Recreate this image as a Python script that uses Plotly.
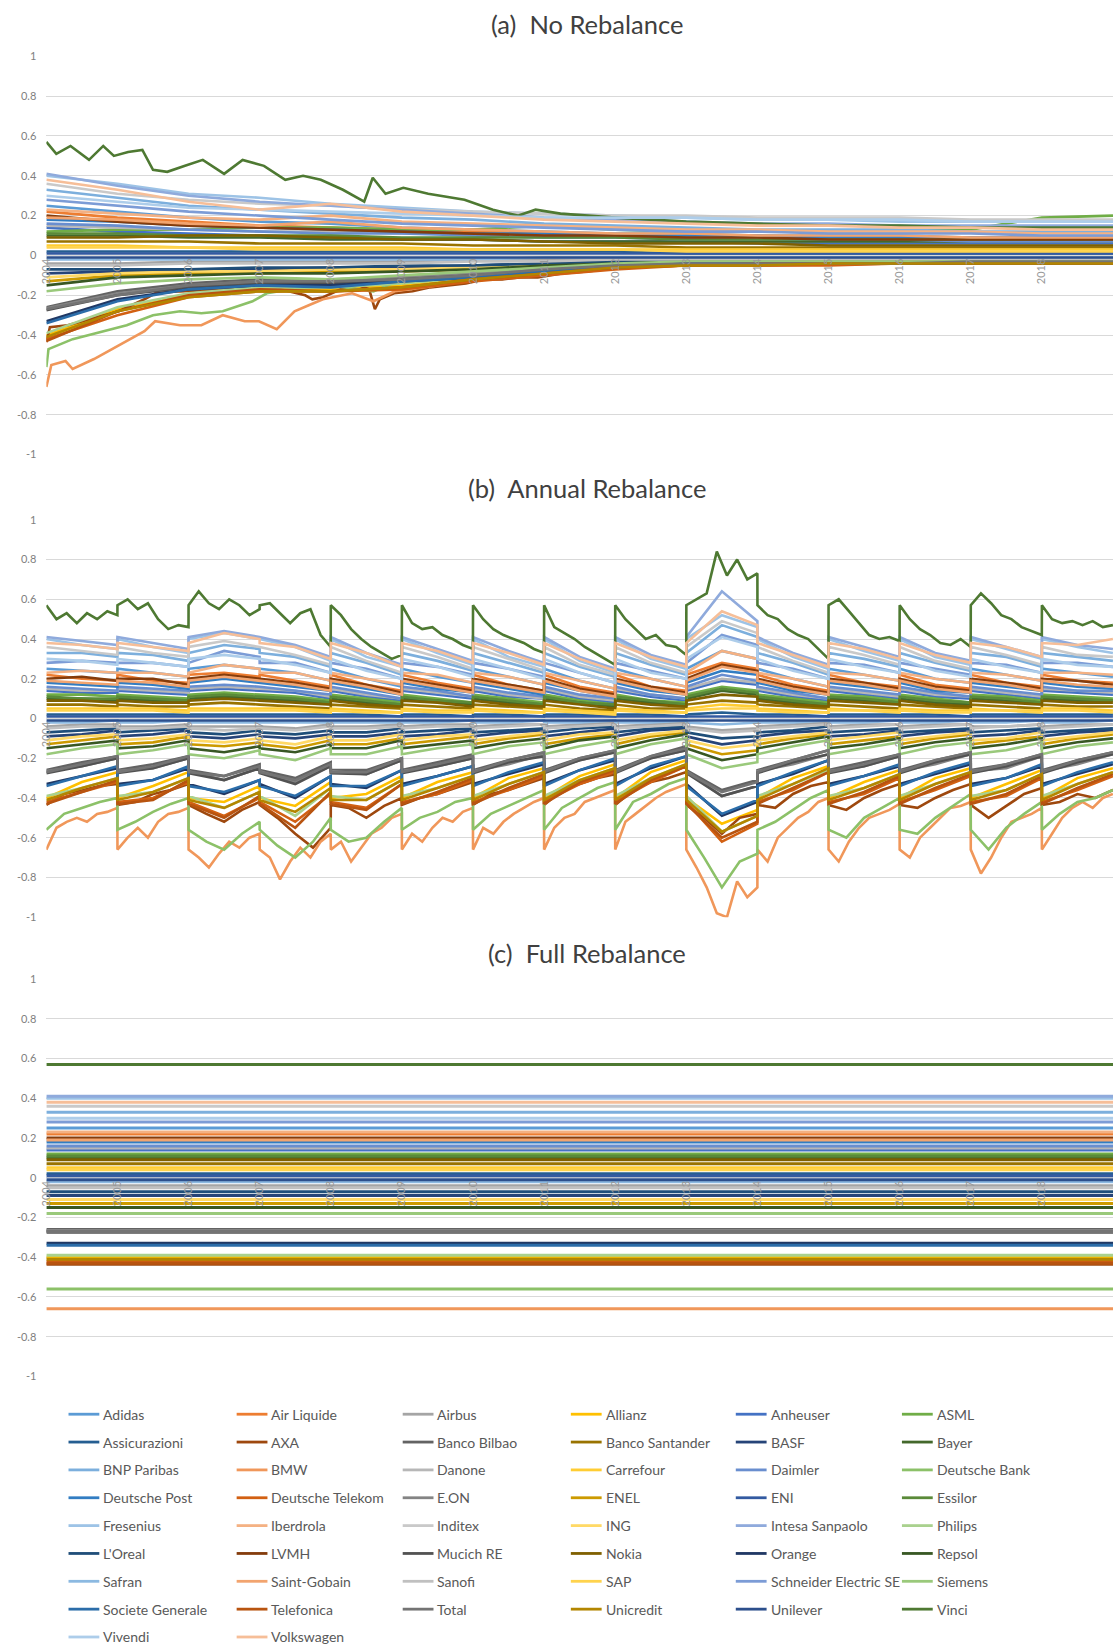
import plotly.graph_objects as go

# ---------------------------------------------------------------------------
# Stocks, in legend order, and their series colours
# ---------------------------------------------------------------------------
NAMES = ["Adidas", "Air Liquide", "Airbus", "Allianz", "Anheuser", "ASML",
         "Assicurazioni", "AXA", "Banco Bilbao", "Banco Santander", "BASF", "Bayer",
         "BNP Paribas", "BMW", "Danone", "Carrefour", "Daimler", "Deutsche Bank",
         "Deutsche Post", "Deutsche Telekom", "E.ON", "ENEL", "ENI", "Essilor",
         "Fresenius", "Iberdrola", "Inditex", "ING", "Intesa Sanpaolo", "Philips",
         "L'Oreal", "LVMH", "Mucich RE", "Nokia", "Orange", "Repsol",
         "Safran", "Saint-Gobain", "Sanofi", "SAP", "Schneider Electric SE", "Siemens",
         "Societe Generale", "Telefonica", "Total", "Unicredit", "Unilever", "Vinci",
         "Vivendi", "Volkswagen"]

COLORS = ["#5B9BD5", "#ED7D31", "#A5A5A5", "#FFC000", "#4472C4", "#70AD47",
          "#255E91", "#9E480E", "#636363", "#997300", "#264478", "#43682B",
          "#7CAFDD", "#F0975A", "#B7B7B7", "#FFCD33", "#698ECF", "#8CC168",
          "#327DC2", "#D26012", "#848484", "#CC9A00", "#335AA1", "#5A8A39",
          "#9DC3E6", "#F4B183", "#C9C9C9", "#FFD966", "#8FAADC", "#A9D18E",
          "#1F4E79", "#843C0C", "#525252", "#7F6000", "#203864", "#385723",
          "#8CB9E1", "#F2A46F", "#C0C0C0", "#FFD34D", "#7C9CD6", "#9AC97B",
          "#2B6DA9", "#B85410", "#747474", "#B38600", "#2C4F8C", "#4E7932",
          "#ADCDEA", "#F6BE98"]

# Target weights (held constant under full rebalancing)
TARGET_WEIGHT = [0.25, 0.22, -0.04, -0.40, 0.14, 0.12,
                 0.02, -0.435, -0.26, 0.07, -0.09, 0.10,
                 0.33, -0.66, 0.15, 0.05, 0.16, -0.56,
                 0.18, -0.42, -0.265, -0.13, 0.01, 0.11,
                 0.40, 0.23, 0.36, -0.11, 0.41, -0.39,
                 -0.07, 0.20, -0.275, 0.09, -0.33, -0.15,
                 -0.02, 0.19, -0.05, 0.04, 0.28, -0.18,
                 -0.34, -0.43, -0.27, -0.41, -0.01, 0.57,
                 0.30, 0.38]

YEARS = [2004, 2005, 2006, 2007, 2008, 2009, 2010, 2011,
         2012, 2013, 2014, 2015, 2016, 2017, 2018, 2019]
YEAR_LABELS = ["2004", "2005", "2006", "2007", "2008", "2009", "2010", "2011",
               "2012", "2013", "2014", "2015", "2016", "2017", "2018"]

# ---------------------------------------------------------------------------
# (a) No rebalance: weights at the start of each year
# ---------------------------------------------------------------------------
NO_REBALANCE = {
    "Adidas": [0.25, 0.22, 0.19, 0.17, 0.16, 0.14, 0.13, 0.12, 0.11, 0.11, 0.10, 0.10, 0.10, 0.09, 0.09, 0.09],
    "Air Liquide": [0.22, 0.19, 0.17, 0.15, 0.14, 0.13, 0.12, 0.11, 0.10, 0.10, 0.09, 0.09, 0.09, 0.08, 0.08, 0.08],
    "Airbus": [-0.04, -0.04, -0.03, -0.03, -0.03, -0.03, -0.02, -0.02, -0.02, -0.02, -0.02, -0.02, -0.02, -0.02, -0.02, -0.02],
    "Allianz": [-0.40, -0.27, -0.20, -0.17, -0.17, -0.15, -0.12, -0.09, -0.06, -0.05, -0.04, -0.04, -0.04, -0.04, -0.04, -0.04],
    "Anheuser": [0.14, 0.12, 0.11, 0.10, 0.09, 0.08, 0.08, 0.07, 0.07, 0.07, 0.06, 0.06, 0.06, 0.06, 0.06, 0.06],
    "ASML": [0.12, 0.13, 0.13, 0.14, 0.14, 0.13, 0.13, 0.15, 0.13, 0.12, 0.12, 0.12, 0.13, 0.13, 0.19, 0.20],
    "Assicurazioni": [0.02, 0.02, 0.02, 0.02, 0.02, 0.02, 0.02, 0.02, 0.02, 0.01, 0.01, 0.01, 0.01, 0.01, 0.01, 0.01],
    "Banco Bilbao": [-0.26, -0.18, -0.14, -0.12, -0.13, -0.11, -0.09, -0.07, -0.05, -0.04, -0.03, -0.03, -0.03, -0.03, -0.03, -0.03],
    "Banco Santander": [0.07, 0.07, 0.07, 0.06, 0.06, 0.06, 0.05, 0.05, 0.05, 0.04, 0.04, 0.04, 0.04, 0.04, 0.04, 0.04],
    "BASF": [-0.09, -0.08, -0.07, -0.07, -0.06, -0.06, -0.05, -0.04, -0.03, -0.03, -0.02, -0.02, -0.02, -0.02, -0.02, -0.02],
    "Bayer": [0.10, 0.10, 0.09, 0.09, 0.08, 0.08, 0.08, 0.07, 0.07, 0.07, 0.07, 0.07, 0.07, 0.07, 0.07, 0.07],
    "BNP Paribas": [0.33, 0.29, 0.25, 0.23, 0.21, 0.19, 0.18, 0.16, 0.15, 0.14, 0.13, 0.13, 0.13, 0.12, 0.12, 0.12],
    "Danone": [0.15, 0.14, 0.13, 0.12, 0.12, 0.11, 0.11, 0.10, 0.10, 0.10, 0.10, 0.09, 0.09, 0.09, 0.09, 0.09],
    "Carrefour": [0.05, 0.05, 0.04, 0.04, 0.04, 0.04, 0.03, 0.03, 0.03, 0.03, 0.03, 0.03, 0.03, 0.03, 0.03, 0.03],
    "Daimler": [0.16, 0.15, 0.13, 0.12, 0.11, 0.11, 0.10, 0.09, 0.09, 0.08, 0.08, 0.08, 0.08, 0.07, 0.07, 0.07],
    "Deutsche Post": [0.18, 0.17, 0.15, 0.14, 0.13, 0.12, 0.11, 0.11, 0.10, 0.10, 0.10, 0.09, 0.09, 0.09, 0.09, 0.09],
    "Deutsche Telekom": [-0.42, -0.30, -0.21, -0.18, -0.18, -0.17, -0.13, -0.10, -0.07, -0.05, -0.05, -0.05, -0.04, -0.04, -0.04, -0.04],
    "E.ON": [-0.265, -0.19, -0.15, -0.13, -0.12, -0.11, -0.09, -0.07, -0.05, -0.04, -0.04, -0.03, -0.03, -0.03, -0.03, -0.03],
    "ENEL": [-0.13, -0.10, -0.09, -0.09, -0.08, -0.08, -0.07, -0.05, -0.04, -0.03, -0.03, -0.03, -0.03, -0.03, -0.03, -0.03],
    "ENI": [0.01, 0.01, 0.01, 0.01, 0.01, 0.01, 0.01, 0.01, 0.01, 0.01, 0.01, 0.01, 0.01, 0.01, 0.01, 0.01],
    "Essilor": [0.11, 0.11, 0.10, 0.10, 0.10, 0.09, 0.09, 0.09, 0.09, 0.08, 0.08, 0.08, 0.08, 0.08, 0.08, 0.08],
    "Fresenius": [0.40, 0.36, 0.31, 0.29, 0.26, 0.24, 0.22, 0.21, 0.20, 0.19, 0.18, 0.18, 0.17, 0.17, 0.17, 0.17],
    "Iberdrola": [0.23, 0.21, 0.19, 0.18, 0.20, 0.17, 0.16, 0.15, 0.14, 0.13, 0.13, 0.12, 0.12, 0.12, 0.11, 0.11],
    "Inditex": [0.36, 0.31, 0.28, 0.26, 0.25, 0.23, 0.22, 0.21, 0.20, 0.20, 0.19, 0.19, 0.19, 0.18, 0.18, 0.18],
    "ING": [-0.11, -0.09, -0.08, -0.08, -0.07, -0.07, -0.06, -0.05, -0.04, -0.03, -0.03, -0.03, -0.03, -0.02, -0.02, -0.02],
    "Intesa Sanpaolo": [0.41, 0.35, 0.30, 0.27, 0.25, 0.23, 0.21, 0.19, 0.18, 0.17, 0.16, 0.16, 0.15, 0.15, 0.15, 0.15],
    "Philips": [-0.39, -0.26, -0.19, -0.16, -0.16, -0.14, -0.11, -0.08, -0.05, -0.04, -0.04, -0.04, -0.04, -0.04, -0.04, -0.04],
    "L'Oreal": [-0.07, -0.07, -0.07, -0.06, -0.06, -0.05, -0.05, -0.04, -0.03, -0.03, -0.03, -0.02, -0.02, -0.02, -0.02, -0.02],
    "LVMH": [0.20, 0.17, 0.15, 0.14, 0.13, 0.12, 0.11, 0.10, 0.10, 0.09, 0.09, 0.08, 0.08, 0.08, 0.08, 0.08],
    "Mucich RE": [-0.275, -0.20, -0.16, -0.14, -0.14, -0.12, -0.10, -0.08, -0.05, -0.04, -0.04, -0.04, -0.04, -0.04, -0.03, -0.03],
    "Nokia": [0.09, 0.09, 0.10, 0.10, 0.09, 0.08, 0.08, 0.07, 0.06, 0.06, 0.06, 0.05, 0.05, 0.05, 0.05, 0.05],
    "Orange": [-0.33, -0.22, -0.17, -0.15, -0.15, -0.13, -0.11, -0.08, -0.05, -0.04, -0.04, -0.04, -0.04, -0.04, -0.04, -0.04],
    "Repsol": [-0.15, -0.11, -0.10, -0.09, -0.09, -0.08, -0.07, -0.05, -0.04, -0.03, -0.03, -0.03, -0.03, -0.03, -0.03, -0.03],
    "Safran": [-0.02, -0.02, -0.02, -0.02, -0.02, -0.02, -0.02, -0.01, -0.01, -0.01, -0.01, -0.01, -0.01, -0.01, -0.01, -0.01],
    "Saint-Gobain": [0.19, 0.18, 0.16, 0.15, 0.17, 0.14, 0.13, 0.12, 0.11, 0.11, 0.10, 0.10, 0.10, 0.09, 0.09, 0.09],
    "Sanofi": [-0.05, -0.05, -0.04, -0.04, -0.04, -0.04, -0.03, -0.03, -0.02, -0.02, -0.02, -0.02, -0.02, -0.02, -0.02, -0.02],
    "SAP": [0.04, 0.04, 0.04, 0.03, 0.03, 0.03, 0.03, 0.03, 0.03, 0.02, 0.02, 0.02, 0.02, 0.02, 0.02, 0.02],
    "Schneider Electric SE": [0.28, 0.25, 0.22, 0.20, 0.18, 0.16, 0.15, 0.14, 0.13, 0.12, 0.12, 0.11, 0.11, 0.11, 0.10, 0.10],
    "Siemens": [-0.18, -0.14, -0.12, -0.11, -0.12, -0.10, -0.08, -0.06, -0.04, -0.03, -0.03, -0.03, -0.03, -0.03, -0.03, -0.03],
    "Societe Generale": [-0.34, -0.23, -0.17, -0.15, -0.16, -0.13, -0.11, -0.08, -0.06, -0.04, -0.04, -0.04, -0.04, -0.04, -0.04, -0.04],
    "Telefonica": [-0.43, -0.28, -0.20, -0.17, -0.18, -0.16, -0.12, -0.09, -0.06, -0.05, -0.04, -0.04, -0.04, -0.04, -0.04, -0.04],
    "Total": [-0.27, -0.20, -0.15, -0.13, -0.13, -0.12, -0.10, -0.07, -0.05, -0.04, -0.04, -0.04, -0.04, -0.03, -0.03, -0.03],
    "Unicredit": [-0.41, -0.28, -0.21, -0.18, -0.18, -0.16, -0.12, -0.09, -0.06, -0.05, -0.05, -0.04, -0.04, -0.04, -0.04, -0.04],
    "Unilever": [-0.01, -0.01, -0.01, -0.01, -0.01, -0.01, -0.01, -0.01, -0.01, -0.01, -0.01, -0.01, -0.01, -0.01, -0.01, -0.01],
    "Vivendi": [0.30, 0.27, 0.24, 0.23, 0.22, 0.21, 0.20, 0.19, 0.19, 0.19, 0.18, 0.18, 0.18, 0.17, 0.17, 0.17],
    "Volkswagen": [0.38, 0.33, 0.27, 0.23, 0.26, 0.22, 0.20, 0.18, 0.17, 0.16, 0.15, 0.15, 0.14, 0.14, 0.13, 0.13],
}

# Finer paths for the four widest-swinging stocks in (a)
VINCI_A_T = [2004.0, 2004.14, 2004.34, 2004.6, 2004.8, 2004.95, 2005.15, 2005.35, 2005.5, 2005.7,
             2005.95, 2006.2, 2006.5, 2006.76, 2007.06, 2007.36, 2007.61, 2007.86, 2008.17, 2008.47,
             2008.59, 2008.77, 2009.02, 2009.37, 2009.88, 2010.28, 2010.63, 2010.88, 2011.23, 2011.6,
             2012.0, 2012.5, 2013.0, 2014.0, 2015.0, 2016.0, 2017.0, 2018.0, 2019.0]
VINCI_A_V = [0.57, 0.51, 0.55, 0.48, 0.55, 0.50, 0.52, 0.53, 0.43, 0.42,
             0.45, 0.48, 0.41, 0.48, 0.45, 0.38, 0.40, 0.38, 0.33, 0.27,
             0.39, 0.31, 0.34, 0.31, 0.28, 0.23, 0.20, 0.23, 0.21, 0.20,
             0.19, 0.18, 0.17, 0.16, 0.15, 0.15, 0.14, 0.14, 0.14]

AXA_A_T = [2004.0, 2004.05, 2004.3, 2004.62, 2005.02, 2005.38, 2005.53, 2005.88, 2006.38, 2006.89,
           2007.29, 2007.64, 2007.74, 2007.89, 2008.14, 2008.39, 2008.54, 2008.62, 2008.69, 2008.89,
           2009.15, 2009.4, 2009.9, 2010.15, 2010.41, 2010.66, 2010.91, 2011.25, 2011.6, 2012.1,
           2013.0, 2014.0, 2016.0, 2019.0]
AXA_A_V = [-0.435, -0.36, -0.35, -0.32, -0.28, -0.22, -0.19, -0.18, -0.17, -0.16,
           -0.17, -0.20, -0.22, -0.21, -0.17, -0.15, -0.17, -0.27, -0.22, -0.19,
           -0.18, -0.16, -0.14, -0.12, -0.12, -0.11, -0.11, -0.09, -0.08, -0.06,
           -0.05, -0.05, -0.04, -0.04]

DEUTSCHE_BANK_A_T = [2004.0, 2004.03, 2004.37, 2004.8, 2005.13, 2005.5, 2005.88, 2006.18, 2006.48, 2006.9,
                     2007.1, 2007.45, 2008.0, 2008.6, 2009.0, 2010.0, 2011.0, 2012.0, 2013.0, 2019.0]
DEUTSCHE_BANK_A_V = [-0.56, -0.47, -0.42, -0.38, -0.35, -0.30, -0.28, -0.29, -0.28, -0.23,
                     -0.19, -0.17, -0.15, -0.18, -0.12, -0.08, -0.05, -0.04, -0.03, -0.03]

BMW_A_T = [2004.0, 2004.07, 2004.27, 2004.37, 2004.67, 2004.87, 2005.13, 2005.38, 2005.53, 2005.88,
           2006.18, 2006.48, 2006.79, 2006.99, 2007.24, 2007.49, 2007.69, 2007.89, 2008.3, 2008.6,
           2008.9, 2009.5, 2010.0, 2010.5, 2011.0, 2012.0, 2013.0, 2019.0]
BMW_A_V = [-0.66, -0.55, -0.53, -0.57, -0.52, -0.48, -0.43, -0.38, -0.33, -0.35,
           -0.35, -0.30, -0.33, -0.33, -0.37, -0.28, -0.25, -0.22, -0.19, -0.23,
           -0.18, -0.15, -0.11, -0.09, -0.07, -0.04, -0.03, -0.03]

# ---------------------------------------------------------------------------
# (b) Annual rebalance: mid-year and year-end weights, 2004..2018
# ---------------------------------------------------------------------------
ANNUAL_MID = {
    "Adidas": [0.24, 0.23, 0.27, 0.23, 0.20, 0.21, 0.21, 0.19, 0.20, 0.34, 0.20, 0.22, 0.20, 0.22, 0.23],
    "Air Liquide": [0.20, 0.19, 0.23, 0.19, 0.17, 0.18, 0.17, 0.16, 0.16, 0.28, 0.17, 0.18, 0.17, 0.18, 0.19],
    "Airbus": [-0.03, -0.04, -0.04, -0.05, -0.04, -0.03, -0.03, -0.03, -0.03, -0.06, -0.03, -0.03, -0.03, -0.04, -0.03],
    "Allianz": [-0.32, -0.34, -0.42, -0.44, -0.38, -0.32, -0.30, -0.29, -0.27, -0.53, -0.30, -0.32, -0.30, -0.33, -0.30],
    "Anheuser": [0.13, 0.13, 0.15, 0.13, 0.11, 0.12, 0.11, 0.10, 0.11, 0.19, 0.11, 0.12, 0.11, 0.12, 0.13],
    "ASML": [0.12, 0.11, 0.13, 0.11, 0.10, 0.10, 0.10, 0.09, 0.09, 0.16, 0.10, 0.11, 0.10, 0.11, 0.11],
    "Assicurazioni": [0.02, 0.02, 0.02, 0.02, 0.02, 0.02, 0.02, 0.02, 0.02, 0.03, 0.02, 0.02, 0.02, 0.02, 0.02],
    "Banco Bilbao": [-0.22, -0.23, -0.29, -0.30, -0.26, -0.22, -0.21, -0.20, -0.19, -0.36, -0.21, -0.22, -0.21, -0.23, -0.21],
    "Banco Santander": [0.07, 0.06, 0.08, 0.06, 0.06, 0.06, 0.06, 0.05, 0.05, 0.09, 0.06, 0.06, 0.06, 0.06, 0.06],
    "BASF": [-0.08, -0.08, -0.10, -0.10, -0.09, -0.08, -0.07, -0.07, -0.06, -0.13, -0.07, -0.08, -0.07, -0.08, -0.07],
    "Bayer": [0.10, 0.09, 0.11, 0.09, 0.08, 0.09, 0.08, 0.08, 0.08, 0.14, 0.08, 0.09, 0.08, 0.09, 0.09],
    "BNP Paribas": [0.33, 0.32, 0.37, 0.31, 0.28, 0.29, 0.28, 0.26, 0.27, 0.47, 0.28, 0.30, 0.28, 0.31, 0.31],
    "Danone": [0.14, 0.14, 0.16, 0.14, 0.12, 0.13, 0.12, 0.11, 0.12, 0.20, 0.12, 0.13, 0.12, 0.13, 0.14],
    "Carrefour": [0.05, 0.05, 0.05, 0.05, 0.04, 0.04, 0.04, 0.04, 0.04, 0.07, 0.04, 0.04, 0.04, 0.04, 0.05],
    "Daimler": [0.15, 0.15, 0.17, 0.14, 0.13, 0.14, 0.13, 0.12, 0.12, 0.22, 0.13, 0.14, 0.13, 0.14, 0.14],
    "Deutsche Post": [0.17, 0.17, 0.20, 0.16, 0.15, 0.15, 0.15, 0.14, 0.14, 0.24, 0.14, 0.16, 0.14, 0.16, 0.16],
    "Deutsche Telekom": [-0.37, -0.40, -0.49, -0.52, -0.45, -0.38, -0.36, -0.33, -0.32, -0.62, -0.36, -0.38, -0.36, -0.39, -0.36],
    "E.ON": [-0.24, -0.25, -0.31, -0.32, -0.28, -0.24, -0.23, -0.21, -0.20, -0.39, -0.23, -0.24, -0.23, -0.25, -0.23],
    "ENEL": [-0.11, -0.12, -0.14, -0.15, -0.13, -0.11, -0.10, -0.10, -0.09, -0.18, -0.10, -0.11, -0.10, -0.11, -0.10],
    "ENI": [0.01, 0.01, 0.01, 0.01, 0.01, 0.01, 0.01, 0.01, 0.01, 0.01, 0.01, 0.01, 0.01, 0.01, 0.01],
    "Essilor": [0.10, 0.10, 0.12, 0.10, 0.09, 0.09, 0.09, 0.08, 0.09, 0.15, 0.09, 0.10, 0.09, 0.10, 0.10],
    "Fresenius": [0.37, 0.36, 0.43, 0.36, 0.31, 0.33, 0.31, 0.29, 0.30, 0.52, 0.31, 0.34, 0.31, 0.35, 0.36],
    "Iberdrola": [0.24, 0.23, 0.27, 0.23, 0.20, 0.22, 0.21, 0.19, 0.20, 0.34, 0.20, 0.22, 0.20, 0.22, 0.23],
    "Inditex": [0.34, 0.33, 0.39, 0.32, 0.29, 0.31, 0.30, 0.27, 0.28, 0.49, 0.29, 0.32, 0.29, 0.32, 0.32],
    "ING": [-0.09, -0.10, -0.12, -0.13, -0.11, -0.09, -0.09, -0.08, -0.08, -0.15, -0.09, -0.09, -0.09, -0.10, -0.09],
    "Intesa Sanpaolo": [0.39, 0.38, 0.44, 0.37, 0.33, 0.35, 0.34, 0.31, 0.32, 0.64, 0.33, 0.36, 0.33, 0.36, 0.37],
    "Philips": [-0.35, -0.37, -0.45, -0.49, -0.41, -0.35, -0.33, -0.31, -0.30, -0.57, -0.33, -0.35, -0.33, -0.36, -0.33],
    "L'Oreal": [-0.06, -0.06, -0.08, -0.08, -0.07, -0.06, -0.06, -0.05, -0.05, -0.10, -0.06, -0.06, -0.06, -0.06, -0.06],
    "LVMH": [0.21, 0.20, 0.22, 0.18, 0.17, 0.17, 0.17, 0.15, 0.16, 0.27, 0.16, 0.18, 0.16, 0.18, 0.19],
    "Mucich RE": [-0.24, -0.25, -0.31, -0.33, -0.28, -0.24, -0.22, -0.21, -0.20, -0.39, -0.22, -0.24, -0.22, -0.24, -0.22],
    "Nokia": [0.09, 0.08, 0.10, 0.08, 0.07, 0.08, 0.07, 0.07, 0.07, 0.12, 0.07, 0.08, 0.07, 0.08, 0.08],
    "Orange": [-0.29, -0.31, -0.38, -0.40, -0.35, -0.29, -0.28, -0.26, -0.25, -0.49, -0.28, -0.29, -0.28, -0.30, -0.28],
    "Repsol": [-0.13, -0.14, -0.17, -0.17, -0.15, -0.13, -0.12, -0.11, -0.11, -0.21, -0.12, -0.13, -0.12, -0.13, -0.12],
    "Safran": [-0.02, -0.02, -0.02, -0.02, -0.02, -0.02, -0.02, -0.02, -0.02, -0.03, -0.02, -0.02, -0.02, -0.02, -0.02],
    "Saint-Gobain": [0.18, 0.18, 0.21, 0.17, 0.16, 0.16, 0.16, 0.14, 0.15, 0.26, 0.15, 0.17, 0.15, 0.17, 0.17],
    "Sanofi": [-0.04, -0.05, -0.06, -0.06, -0.05, -0.04, -0.04, -0.04, -0.04, -0.07, -0.04, -0.04, -0.04, -0.04, -0.04],
    "SAP": [0.04, 0.04, 0.04, 0.04, 0.03, 0.03, 0.03, 0.03, 0.03, 0.05, 0.03, 0.04, 0.03, 0.04, 0.04],
    "Schneider Electric SE": [0.29, 0.28, 0.34, 0.28, 0.25, 0.26, 0.25, 0.23, 0.24, 0.42, 0.25, 0.27, 0.25, 0.27, 0.28],
    "Siemens": [-0.15, -0.16, -0.20, -0.21, -0.18, -0.15, -0.14, -0.14, -0.13, -0.25, -0.14, -0.15, -0.14, -0.16, -0.14],
    "Societe Generale": [-0.29, -0.31, -0.37, -0.39, -0.34, -0.29, -0.27, -0.26, -0.24, -0.48, -0.27, -0.29, -0.27, -0.30, -0.27],
    "Telefonica": [-0.37, -0.41, -0.50, -0.55, -0.46, -0.37, -0.35, -0.32, -0.31, -0.60, -0.35, -0.37, -0.35, -0.38, -0.35],
    "Total": [-0.23, -0.24, -0.29, -0.31, -0.27, -0.23, -0.21, -0.20, -0.19, -0.37, -0.21, -0.23, -0.21, -0.23, -0.21],
    "Unicredit": [-0.35, -0.37, -0.45, -0.47, -0.41, -0.35, -0.33, -0.31, -0.30, -0.57, -0.33, -0.35, -0.33, -0.36, -0.33],
    "Unilever": [-0.01, -0.01, -0.01, -0.01, -0.01, -0.01, -0.01, -0.01, -0.01, -0.01, -0.01, -0.01, -0.01, -0.01, -0.01],
    "Vivendi": [0.29, 0.28, 0.32, 0.27, 0.24, 0.26, 0.25, 0.23, 0.23, 0.41, 0.24, 0.26, 0.24, 0.26, 0.27],
    "Volkswagen": [0.37, 0.36, 0.43, 0.36, 0.33, 0.34, 0.33, 0.30, 0.31, 0.54, 0.32, 0.35, 0.32, 0.36, 0.37],
}

ANNUAL_END = {
    "Adidas": [0.23, 0.21, 0.25, 0.19, 0.16, 0.18, 0.17, 0.15, 0.16, 0.30, 0.16, 0.19, 0.18, 0.19, 0.21],
    "Air Liquide": [0.19, 0.18, 0.21, 0.16, 0.14, 0.15, 0.14, 0.13, 0.14, 0.25, 0.14, 0.16, 0.15, 0.16, 0.18],
    "Airbus": [-0.03, -0.03, -0.04, -0.03, -0.03, -0.03, -0.03, -0.02, -0.02, -0.05, -0.02, -0.03, -0.03, -0.03, -0.03],
    "Allianz": [-0.27, -0.27, -0.34, -0.32, -0.29, -0.27, -0.25, -0.23, -0.21, -0.46, -0.24, -0.26, -0.25, -0.26, -0.25],
    "Anheuser": [0.13, 0.12, 0.14, 0.10, 0.09, 0.10, 0.10, 0.08, 0.09, 0.17, 0.09, 0.10, 0.10, 0.10, 0.12],
    "ASML": [0.11, 0.10, 0.12, 0.09, 0.08, 0.08, 0.08, 0.07, 0.08, 0.14, 0.08, 0.09, 0.08, 0.09, 0.10],
    "Assicurazioni": [0.02, 0.02, 0.02, 0.02, 0.01, 0.01, 0.01, 0.01, 0.01, 0.02, 0.01, 0.02, 0.01, 0.02, 0.02],
    "Banco Bilbao": [-0.19, -0.19, -0.23, -0.22, -0.20, -0.18, -0.17, -0.16, -0.14, -0.31, -0.16, -0.18, -0.17, -0.18, -0.17],
    "Banco Santander": [0.06, 0.06, 0.07, 0.05, 0.05, 0.05, 0.05, 0.04, 0.05, 0.08, 0.05, 0.05, 0.05, 0.05, 0.06],
    "BASF": [-0.06, -0.06, -0.08, -0.08, -0.07, -0.06, -0.06, -0.05, -0.05, -0.11, -0.06, -0.06, -0.06, -0.06, -0.06],
    "Bayer": [0.09, 0.09, 0.10, 0.08, 0.07, 0.07, 0.07, 0.06, 0.07, 0.12, 0.07, 0.08, 0.07, 0.08, 0.09],
    "BNP Paribas": [0.31, 0.29, 0.35, 0.26, 0.22, 0.24, 0.23, 0.21, 0.22, 0.41, 0.22, 0.26, 0.24, 0.26, 0.29],
    "Danone": [0.14, 0.13, 0.15, 0.11, 0.10, 0.11, 0.10, 0.09, 0.10, 0.18, 0.10, 0.11, 0.11, 0.11, 0.13],
    "Carrefour": [0.05, 0.04, 0.05, 0.04, 0.03, 0.04, 0.03, 0.03, 0.03, 0.06, 0.03, 0.04, 0.04, 0.04, 0.04],
    "Daimler": [0.14, 0.14, 0.16, 0.12, 0.10, 0.11, 0.11, 0.10, 0.10, 0.19, 0.10, 0.12, 0.11, 0.12, 0.14],
    "Deutsche Post": [0.16, 0.15, 0.18, 0.14, 0.12, 0.13, 0.12, 0.11, 0.12, 0.22, 0.12, 0.14, 0.13, 0.14, 0.15],
    "Deutsche Telekom": [-0.32, -0.32, -0.40, -0.38, -0.33, -0.31, -0.29, -0.27, -0.24, -0.53, -0.27, -0.30, -0.29, -0.30, -0.29],
    "E.ON": [-0.20, -0.20, -0.25, -0.24, -0.21, -0.20, -0.18, -0.17, -0.16, -0.34, -0.18, -0.19, -0.18, -0.19, -0.18],
    "ENEL": [-0.09, -0.09, -0.12, -0.11, -0.10, -0.09, -0.08, -0.08, -0.07, -0.16, -0.08, -0.09, -0.08, -0.09, -0.08],
    "ENI": [0.01, 0.01, 0.01, 0.01, 0.01, 0.01, 0.01, 0.01, 0.01, 0.01, 0.01, 0.01, 0.01, 0.01, 0.01],
    "Essilor": [0.10, 0.09, 0.11, 0.08, 0.07, 0.08, 0.07, 0.07, 0.07, 0.13, 0.07, 0.08, 0.08, 0.08, 0.09],
    "Fresenius": [0.35, 0.33, 0.40, 0.29, 0.26, 0.27, 0.26, 0.23, 0.25, 0.46, 0.25, 0.29, 0.27, 0.30, 0.33],
    "Iberdrola": [0.23, 0.21, 0.25, 0.19, 0.17, 0.18, 0.17, 0.15, 0.16, 0.30, 0.16, 0.19, 0.18, 0.19, 0.22],
    "Inditex": [0.32, 0.31, 0.36, 0.27, 0.23, 0.25, 0.24, 0.22, 0.23, 0.43, 0.23, 0.27, 0.25, 0.27, 0.31],
    "ING": [-0.08, -0.08, -0.10, -0.09, -0.08, -0.08, -0.07, -0.07, -0.06, -0.13, -0.07, -0.07, -0.07, -0.07, -0.07],
    "Intesa Sanpaolo": [0.37, 0.35, 0.41, 0.31, 0.27, 0.29, 0.28, 0.25, 0.27, 0.49, 0.27, 0.31, 0.29, 0.31, 0.35],
    "Philips": [-0.30, -0.30, -0.37, -0.35, -0.31, -0.29, -0.27, -0.25, -0.23, -0.49, -0.26, -0.28, -0.27, -0.28, -0.27],
    "L'Oreal": [-0.05, -0.05, -0.06, -0.06, -0.05, -0.05, -0.05, -0.04, -0.04, -0.09, -0.04, -0.05, -0.05, -0.05, -0.05],
    "LVMH": [0.19, 0.17, 0.20, 0.15, 0.13, 0.14, 0.14, 0.12, 0.13, 0.24, 0.13, 0.15, 0.14, 0.15, 0.17],
    "Mucich RE": [-0.20, -0.20, -0.25, -0.24, -0.21, -0.20, -0.19, -0.17, -0.16, -0.34, -0.18, -0.19, -0.18, -0.19, -0.18],
    "Nokia": [0.08, 0.08, 0.09, 0.07, 0.06, 0.06, 0.06, 0.05, 0.06, 0.11, 0.06, 0.07, 0.06, 0.07, 0.08],
    "Orange": [-0.25, -0.25, -0.31, -0.29, -0.26, -0.24, -0.23, -0.21, -0.19, -0.42, -0.21, -0.24, -0.23, -0.24, -0.23],
    "Repsol": [-0.11, -0.11, -0.14, -0.13, -0.11, -0.11, -0.10, -0.09, -0.08, -0.18, -0.09, -0.10, -0.10, -0.10, -0.10],
    "Safran": [-0.01, -0.01, -0.02, -0.02, -0.02, -0.01, -0.01, -0.01, -0.01, -0.02, -0.01, -0.01, -0.01, -0.01, -0.01],
    "Saint-Gobain": [0.17, 0.16, 0.19, 0.14, 0.12, 0.13, 0.13, 0.11, 0.12, 0.23, 0.12, 0.14, 0.13, 0.14, 0.16],
    "Sanofi": [-0.04, -0.04, -0.05, -0.04, -0.04, -0.04, -0.03, -0.03, -0.03, -0.06, -0.03, -0.03, -0.03, -0.03, -0.03],
    "SAP": [0.04, 0.03, 0.04, 0.03, 0.03, 0.03, 0.03, 0.02, 0.03, 0.05, 0.03, 0.03, 0.03, 0.03, 0.03],
    "Schneider Electric SE": [0.28, 0.26, 0.31, 0.23, 0.20, 0.22, 0.21, 0.18, 0.20, 0.37, 0.20, 0.23, 0.22, 0.23, 0.26],
    "Siemens": [-0.13, -0.13, -0.16, -0.15, -0.14, -0.13, -0.12, -0.11, -0.10, -0.22, -0.11, -0.12, -0.12, -0.12, -0.12],
    "Societe Generale": [-0.24, -0.24, -0.31, -0.29, -0.26, -0.24, -0.22, -0.20, -0.19, -0.41, -0.21, -0.23, -0.22, -0.23, -0.22],
    "Telefonica": [-0.31, -0.31, -0.39, -0.37, -0.33, -0.30, -0.28, -0.26, -0.24, -0.52, -0.27, -0.29, -0.28, -0.29, -0.28],
    "Total": [-0.19, -0.19, -0.24, -0.23, -0.20, -0.19, -0.17, -0.16, -0.15, -0.32, -0.16, -0.18, -0.17, -0.18, -0.17],
    "Unicredit": [-0.30, -0.30, -0.37, -0.35, -0.31, -0.29, -0.27, -0.25, -0.23, -0.49, -0.25, -0.28, -0.27, -0.28, -0.27],
    "Unilever": [-0.01, -0.01, -0.01, -0.01, -0.01, -0.01, -0.01, -0.01, -0.01, -0.01, -0.01, -0.01, -0.01, -0.01, -0.01],
    "Vivendi": [0.27, 0.26, 0.30, 0.23, 0.20, 0.21, 0.20, 0.18, 0.20, 0.36, 0.20, 0.23, 0.21, 0.23, 0.26],
    "Volkswagen": [0.35, 0.34, 0.40, 0.30, 0.26, 0.28, 0.27, 0.24, 0.26, 0.47, 0.26, 0.30, 0.28, 0.31, 0.40],
}

# Finer within-year paths for the widest swings in (b): one row per year
VINCI_B = [
    [0.57, 0.50, 0.53, 0.48, 0.53, 0.50, 0.54, 0.52],
    [0.57, 0.60, 0.55, 0.58, 0.50, 0.45, 0.47, 0.46],
    [0.57, 0.64, 0.58, 0.55, 0.60, 0.57, 0.52, 0.55],
    [0.57, 0.58, 0.53, 0.48, 0.53, 0.55, 0.42, 0.36],
    [0.57, 0.52, 0.45, 0.40, 0.36, 0.33, 0.30, 0.32],
    [0.57, 0.48, 0.45, 0.46, 0.42, 0.40, 0.37, 0.35],
    [0.57, 0.50, 0.45, 0.42, 0.40, 0.38, 0.35, 0.33],
    [0.57, 0.46, 0.43, 0.40, 0.36, 0.33, 0.30, 0.27],
    [0.57, 0.50, 0.45, 0.40, 0.42, 0.37, 0.36, 0.32],
    [0.57, 0.60, 0.63, 0.84, 0.72, 0.80, 0.70, 0.73],
    [0.57, 0.52, 0.50, 0.45, 0.42, 0.40, 0.35, 0.30],
    [0.57, 0.60, 0.54, 0.48, 0.42, 0.40, 0.41, 0.39],
    [0.57, 0.50, 0.45, 0.42, 0.38, 0.37, 0.40, 0.36],
    [0.57, 0.63, 0.58, 0.52, 0.50, 0.46, 0.44, 0.42],
    [0.57, 0.50, 0.48, 0.49, 0.47, 0.49, 0.46, 0.47],
]
BMW_B = [
    [-0.66, -0.55, -0.52, -0.50, -0.52, -0.48, -0.47, -0.45],
    [-0.66, -0.60, -0.55, -0.60, -0.52, -0.48, -0.47, -0.45],
    [-0.66, -0.70, -0.75, -0.68, -0.62, -0.65, -0.60, -0.58],
    [-0.66, -0.70, -0.81, -0.72, -0.65, -0.70, -0.62, -0.58],
    [-0.66, -0.62, -0.72, -0.65, -0.58, -0.55, -0.50, -0.48],
    [-0.66, -0.58, -0.62, -0.55, -0.50, -0.52, -0.47, -0.45],
    [-0.66, -0.55, -0.58, -0.52, -0.48, -0.45, -0.42, -0.40],
    [-0.66, -0.55, -0.50, -0.48, -0.42, -0.40, -0.38, -0.36],
    [-0.66, -0.52, -0.48, -0.44, -0.40, -0.37, -0.35, -0.33],
    [-0.66, -0.75, -0.85, -0.98, -1.00, -0.82, -0.90, -0.85],
    [-0.66, -0.72, -0.60, -0.55, -0.50, -0.47, -0.42, -0.40],
    [-0.66, -0.72, -0.62, -0.55, -0.50, -0.48, -0.46, -0.43],
    [-0.66, -0.70, -0.60, -0.55, -0.50, -0.45, -0.44, -0.42],
    [-0.66, -0.78, -0.70, -0.60, -0.52, -0.50, -0.48, -0.45],
    [-0.66, -0.58, -0.50, -0.45, -0.42, -0.45, -0.40, -0.38],
]
DEUTSCHE_BANK_B = [
    [-0.56, -0.48, -0.45, -0.42, -0.40],
    [-0.56, -0.52, -0.47, -0.43, -0.40],
    [-0.56, -0.62, -0.66, -0.58, -0.52],
    [-0.56, -0.64, -0.70, -0.62, -0.50],
    [-0.56, -0.62, -0.60, -0.52, -0.45],
    [-0.56, -0.50, -0.47, -0.42, -0.40],
    [-0.56, -0.48, -0.44, -0.40, -0.36],
    [-0.56, -0.45, -0.40, -0.35, -0.32],
    [-0.56, -0.42, -0.38, -0.33, -0.30],
    [-0.56, -0.70, -0.85, -0.72, -0.68],
    [-0.56, -0.52, -0.46, -0.40, -0.36],
    [-0.56, -0.60, -0.50, -0.45, -0.40],
    [-0.56, -0.58, -0.50, -0.44, -0.38],
    [-0.56, -0.66, -0.55, -0.48, -0.42],
    [-0.56, -0.48, -0.42, -0.40, -0.36],
]
AXA_B = [
    [-0.435, -0.38, -0.36, -0.34, -0.33],
    [-0.435, -0.42, -0.38, -0.36, -0.33],
    [-0.435, -0.48, -0.52, -0.46, -0.42],
    [-0.435, -0.50, -0.58, -0.65, -0.55],
    [-0.435, -0.45, -0.50, -0.44, -0.40],
    [-0.435, -0.40, -0.38, -0.35, -0.32],
    [-0.435, -0.38, -0.36, -0.33, -0.30],
    [-0.435, -0.36, -0.33, -0.30, -0.28],
    [-0.435, -0.36, -0.32, -0.30, -0.27],
    [-0.435, -0.50, -0.58, -0.50, -0.48],
    [-0.435, -0.45, -0.38, -0.34, -0.32],
    [-0.435, -0.46, -0.40, -0.36, -0.33],
    [-0.435, -0.45, -0.40, -0.36, -0.33],
    [-0.435, -0.50, -0.44, -0.38, -0.35],
    [-0.435, -0.42, -0.38, -0.40, -0.36],
]

PANEL_TITLES = ["(a)\u00a0\u00a0No Rebalance", "(b)\u00a0\u00a0Annual Rebalance", "(c)\u00a0\u00a0Full Rebalance"]

# ---------------------------------------------------------------------------
# Layout geometry (pixels on a 1113 x 1648 page)
# ---------------------------------------------------------------------------
W, H = 1113, 1648
PLOT_LEFT = 39.6
PANEL_PX = [(49.7, 451.2), (516.9, 917.4), (979.8, 1380.3)]   # pixel rows of y = 1 and y = -1
TITLE_PX = [16.8, 485.1, 953.3]
TITLE_X = 583.3
FONT = "Lato, 'Open Sans', sans-serif"
GRID = "#D9D9D9"
LINE_W = 2.6


def paper_y(px):
    return 1 - px / H


detail_a = {"Vinci": (VINCI_A_T, VINCI_A_V), "AXA": (AXA_A_T, AXA_A_V),
            "Deutsche Bank": (DEUTSCHE_BANK_A_T, DEUTSCHE_BANK_A_V), "BMW": (BMW_A_T, BMW_A_V)}
detail_b = {"Vinci": VINCI_B, "BMW": BMW_B, "Deutsche Bank": DEUTSCHE_BANK_B, "AXA": AXA_B}

fig = go.Figure()

for i, name in enumerate(NAMES):
    color = COLORS[i]
    # (a) no rebalance
    if name in detail_a:
        xa, ya = detail_a[name]
    else:
        xa, ya = YEARS, NO_REBALANCE[name]
    fig.add_trace(go.Scatter(x=xa, y=ya, mode="lines", name=name, showlegend=False,
                             line=dict(color=color, width=LINE_W), hoverinfo="skip",
                             xaxis="x", yaxis="y"))
    # (b) annual rebalance: each year restarts from the target weight
    xb, yb = [], []
    for k, year in enumerate(YEARS[:-1]):
        if name in detail_b:
            row = detail_b[name][k]
            n = len(row)
            fr = [j / (n - 1) for j in range(n)]
            fr[-1] = 0.999
            xb += [year + f for f in fr]
            yb += row
        else:
            xb += [year, year + 0.5, year + 0.999]
            yb += [TARGET_WEIGHT[i], ANNUAL_MID[name][k], ANNUAL_END[name][k]]
    fig.add_trace(go.Scatter(x=xb, y=yb, mode="lines", name=name, showlegend=False,
                             line=dict(color=color, width=LINE_W), hoverinfo="skip",
                             xaxis="x2", yaxis="y2"))
    # (c) full rebalance: constant target weight
    fig.add_trace(go.Scatter(x=[YEARS[0], YEARS[-1]], y=[TARGET_WEIGHT[i], TARGET_WEIGHT[i]],
                             mode="lines", name=name, showlegend=False,
                             line=dict(color=color, width=LINE_W + 0.4), hoverinfo="skip",
                             xaxis="x3", yaxis="y3"))

ytick_vals = [-1, -0.8, -0.6, -0.4, -0.2, 0, 0.2, 0.4, 0.6, 0.8, 1]
ytick_text = ["-1", "-0.8", "-0.6", "-0.4", "-0.2", "0", "0.2", "0.4", "0.6", "0.8", "1"]

layout = dict(
    width=W, height=H,
    margin=dict(l=0, r=0, t=0, b=0),
    paper_bgcolor="white", plot_bgcolor="white",
    font=dict(family=FONT, color="#595959"),
    showlegend=False,
)

annotations = []
shapes = []
for p, (top, bot) in enumerate(PANEL_PX):
    sfx = "" if p == 0 else str(p + 1)
    zero_px = top + (bot - top) / 2
    layout["xaxis" + sfx] = dict(
        domain=[PLOT_LEFT / W, 1], range=[YEARS[0], YEARS[-1]],
        anchor="free", position=paper_y(zero_px),
        tickmode="array", tickvals=YEARS[:-1], ticktext=YEAR_LABELS,
        tickangle=-90, tickfont=dict(size=11, color="#999999", family=FONT),
        showgrid=False, zeroline=False, showline=False, ticks="",
        fixedrange=True,
    )
    layout["yaxis" + sfx] = dict(
        domain=[paper_y(bot), paper_y(top)], range=[-1, 1],
        anchor="x" + sfx,
        tickmode="array", tickvals=ytick_vals, ticktext=ytick_text,
        tickfont=dict(size=11, color="#7F7F7F", family=FONT),
        ticklabelstandoff=9,
        showgrid=True, gridcolor=GRID, gridwidth=1.2,
        zeroline=False, showline=False, ticks="", fixedrange=True,
    )
    annotations.append(dict(
        text=PANEL_TITLES[p], xref="paper", yref="paper",
        x=TITLE_X / W, y=paper_y(TITLE_PX[p]), xanchor="center", yanchor="middle",
        showarrow=False, font=dict(size=25.5, color="#404040", family=FONT),
    ))

# Legend: six columns, row-major order
LEG_COL_X = [61.9, 231.1, 398.2, 567.4, 733.4, 900.6]
LEG_ROW0, LEG_DY = 1418.4, 28.07
for i, name in enumerate(NAMES):
    r, c = divmod(i, 6)
    ypx = LEG_ROW0 + r * LEG_DY
    x0 = LEG_COL_X[c]
    shapes.append(dict(type="line", xref="paper", yref="paper",
                       x0=x0 / W, x1=(x0 + 31) / W, y0=paper_y(ypx), y1=paper_y(ypx),
                       line=dict(color=COLORS[i], width=2.8)))
    annotations.append(dict(text=name, xref="paper", yref="paper",
                            x=(x0 + 33) / W, y=paper_y(ypx), xanchor="left", yanchor="middle",
                            showarrow=False, font=dict(size=14, color="#595959", family=FONT)))

layout["annotations"] = annotations
layout["shapes"] = shapes
fig.update_layout(**layout)

fig.write_html("out.html")
